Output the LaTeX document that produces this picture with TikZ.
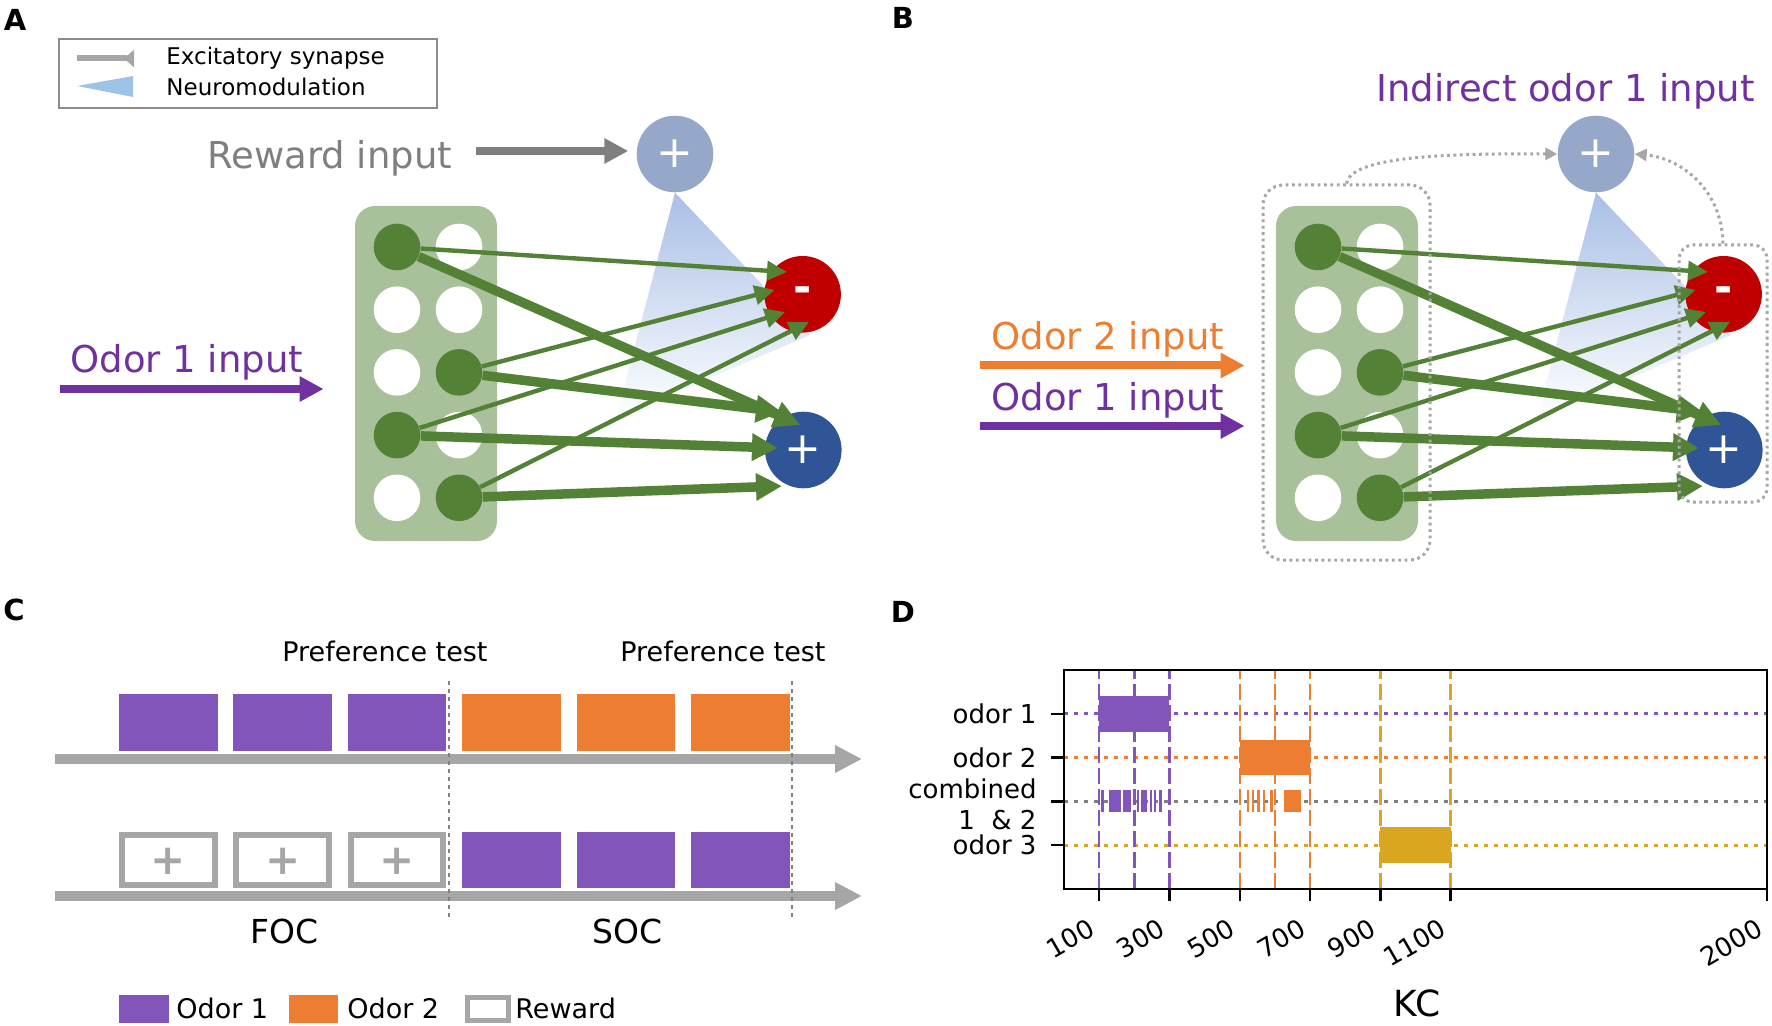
\documentclass[tikz,border=0pt]{standalone}
\usepackage{fontspec}
\setmainfont{DejaVu Sans}
\usetikzlibrary{arrows.meta,calc}

\definecolor{kcgreen}{HTML}{538135}
\definecolor{kcfill}{HTML}{A9C19B}
\definecolor{mbonred}{HTML}{C00000}
\definecolor{mbonblue}{HTML}{2F5597}
\definecolor{danfill}{HTML}{95A8CA}
\definecolor{modblue}{HTML}{A9BFE6}
\definecolor{legblue}{HTML}{9DC3E6}
\definecolor{odorpurple}{HTML}{7030A0}
\definecolor{boxpurple}{HTML}{8155BA}
\definecolor{odororange}{HTML}{ED7D31}
\definecolor{odorgold}{HTML}{DAA520}
\definecolor{rewgray}{HTML}{7F7F7F}
\definecolor{linegray}{HTML}{A6A6A6}
\definecolor{legframe}{HTML}{8C8C8C}

\tikzset{%
  >={Triangle[length=12pt,width=12pt]},
  % Specifications for style of nodes:
  paneltag/.style = {inner sep=0, font=\fontsize{14.5}{17}\selectfont\bfseries},
  inputtext/.style = {inner sep=0, anchor=base west, font=\fontsize{18.5}{22}\selectfont},
  legendtext/.style = {inner sep=0, anchor=west, font=\fontsize{11.5}{14}\selectfont},
  timetext/.style = {inner sep=0, anchor=base west, font=\fontsize{13.5}{16}\selectfont},
  plottext/.style = {inner sep=0, font=\fontsize{13}{15.5}\selectfont},
  kcbox/.style = {rectangle, rounded corners=10pt, fill=kcfill,
                  minimum width=71pt, minimum height=167.5pt, inner sep=0},
  kc/.style = {circle, minimum size=23.3pt, inner sep=0},
  neuron/.style = {circle, minimum size=38.3pt, inner sep=0, text=white,
                   font=\fontsize{22}{24}\selectfont},
  synthin/.style = {draw=kcgreen, line width=2.2pt, -{Triangle[length=10pt,width=9.5pt]}},
  synthick/.style = {draw=kcgreen, line width=4.75pt, -{Triangle[length=13pt,width=13pt]}},
  inarrow/.style = {->, line width=4pt},
  dotbox/.style = {draw=linegray, line width=1.5pt, dash pattern=on 1.4pt off 1.8pt,
                   inner sep=0},
  dotcurve/.style = {draw=linegray, line width=1.5pt, dash pattern=on 1.4pt off 1.8pt,
                     -{Triangle[length=6pt,width=6pt]}},
  timeline/.style = {draw=linegray, line width=5pt, -{Triangle[length=13.5pt,width=13pt]}},
  rowdots/.style = {line width=1.5pt, dash pattern=on 2.2pt off 2.8pt},
  coldash/.style = {line width=1.2pt, dash pattern=on 8pt off 2.5pt}
}

% KC layer, DAN and MBONs of one network; #1 prefixes the node names
\newcommand{\kcnet}[1]{%
  \node (#1g) [kcbox] at (426,373.5) {};
  \foreach \kr/\kc/\kf in {1/1/kcgreen,1/2/white,2/1/white,2/2/white,3/1/white,
                           3/2/kcgreen,4/1/kcgreen,4/2/white,5/1/white,5/2/kcgreen}
    \node (#1k\kr\kc) [kc, fill=\kf] at ({335+62*\kc},{247+62.7*(\kr-1)}) {};
  % DAN with its neuromodulation
  \node (#1r) [neuron, fill=danfill] at (675,154) {+};
  \shade[top color=modblue, bottom color=white] (#1r.south) -- (616,418) -- (810,335) -- cycle;
  % MBONs
  \node (#1m) [neuron, fill=mbonred] at (802.6,294.3) {\raisebox{-3pt}{\bfseries -}};
  \node (#1p) [neuron, fill=mbonblue] at (803.3,450) {+};
  \foreach \s/\mx/\my/\px/\py in {11/-15.6/-22.3/-3.3/-25, 32/-28/-4.3/-21.3/-38,
                                  41/-17.6/17.7/-25.3/-2, 52/6.4/27.7/-21.3/36}{
    \draw[synthin] (#1k\s) -- ($(#1m)+(\mx,\my)$);
    \draw[synthick] (#1k\s) -- ($(#1p)+(\px,\py)$);
  }
}

\begin{document}
\begin{tikzpicture}[x=0.5pt, y=-0.5pt]
\useasboundingbox (0,0) rectangle (1772,1026);

%% ---------------- A ----------------
\node (tagA) [paneltag] at (15,20) {A};
\node (leg) [draw=legframe, line width=1pt, minimum width=189pt, minimum height=34.5pt, inner sep=0] at (248,73.5) {};
\draw[linegray, line width=3pt, -{Triangle[reversed,length=5pt,width=8.5pt]}] (77,58.5) -- (134,58.5);
\fill[legblue] (77,86) -- (133,76) -- (133,97) -- cycle;
\node (legexc) [legendtext] at (166,58.5) {Excitatory synapse};
\node (legmod) [legendtext] at (166,87) {Neuromodulation};

\kcnet{a}

\node (rewtxt) [inputtext, text=rewgray] at (207,169) {Reward input};
\coordinate (rews) at (476,151);
\draw[inarrow, rewgray, shorten >=4pt] (rews) -- (rews -| ar.west);

\node (aodor1) [inputtext, text=odorpurple] at (70,373) {Odor 1 input};
\coordinate (aodor1s) at (60,389);
\draw[inarrow, odorpurple, shorten >=15.5pt] (aodor1s) -- (aodor1s -| ag.west);

%% ---------------- B ----------------
\node (tagB) [paneltag] at (903,18) {B};
\begin{scope}[shift={(921,0)}]
  \kcnet{b}
\end{scope}

\node (bindir) [inputtext, text=odorpurple] at (1376,102) {Indirect odor 1 input};
\node (bodor2) [inputtext, text=odororange] at (991,350) {Odor 2 input};
\node (bodor1) [inputtext, text=odorpurple] at (991,411) {Odor 1 input};
\coordinate (bodor2s) at (980,365.5);
\coordinate (bodor1s) at (980,426);
\draw[inarrow, odororange, shorten >=15.5pt] (bodor2s) -- (bodor2s -| bg.west);
\draw[inarrow, odorpurple, shorten >=15.5pt] (bodor1s) -- (bodor1s -| bg.west);

\node (bkcgroup) [dotbox, rounded corners=10pt, minimum width=83.5pt, minimum height=187.5pt] at (1346.5,372.5) {};
\node (bmbgroup) [dotbox, rounded corners=7pt, minimum width=44pt, minimum height=128.5pt] at (1723,373.5) {};
\draw[dotcurve] (bkcgroup.north) .. controls +(4,-25) and +(-127,-1) .. (br.west);
\draw[dotcurve] (bmbgroup.north) .. controls +(-1,-54) and +(46,4) .. (br.east);

%% ---------------- C ----------------
\node (tagC) [paneltag] at (14,610) {C};
\node (pref1) [timetext] at (282,661) {Preference test};
\node (pref2) [timetext] at (620,661) {Preference test};

\foreach \i/\cc in {0/boxpurple,1/boxpurple,2/boxpurple,3/odororange,4/odororange,5/odororange}
  \fill[\cc] ({119+114.4*\i},694) rectangle +(98.5,57);
\foreach \i in {0,1,2}{
  \draw[linegray, line width=3pt] ({122+114.4*\i},835) rectangle +(92.5,50);
  \node (plus\i) [text=linegray, font=\fontsize{21}{24}\selectfont\bfseries, inner sep=0] at ({168.25+114.4*\i},861) {+};
}
\foreach \i in {3,4,5}
  \fill[boxpurple] ({119+114.4*\i},832) rectangle +(98.5,56);

\coordinate (t1s) at (55,759);
\coordinate (t1e) at (862,759);
\coordinate (t2s) at (55,896);
\coordinate (t2e) at (862,896);
\draw[timeline] (t1s) -- (t1e);
\draw[timeline] (t2s) -- (t2e);
\foreach \xx in {449,792}
  \draw[gray, line width=1pt, dash pattern=on 2pt off 2pt] (\xx,681) -- (\xx,918);

\node (foc) [inner sep=0, anchor=base, font=\fontsize{16.5}{20}\selectfont] at (284.5,943) {FOC};
\node (soc) [inner sep=0, anchor=base, font=\fontsize{16.5}{20}\selectfont] at (627.5,943) {SOC};

% legend
\fill[boxpurple] (119,995) rectangle (169,1023);
\node (lodor1) [timetext] at (176,1018) {Odor 1};
\fill[odororange] (289,995) rectangle (338,1023);
\node (lodor2) [timetext] at (347,1018) {Odor 2};
\draw[linegray, line width=2.5pt] (467.5,997.5) rectangle (508.5,1020.5);
\node (lrew) [timetext] at (515,1018) {Reward};

%% ---------------- D ----------------
\node (tagD) [paneltag] at (903,612) {D};
\begin{scope}[shift={(1064,845)}, x=0.17575pt, y=21.85pt]
  % guide lines of the rows
  \foreach \rr/\cc in {3/boxpurple, 2/odororange, 1/rewgray, 0/odorgold}
    \draw[rowdots, \cc] (0,\rr) -- (2000,\rr);
  % responses
  \fill[boxpurple] (100,2.59) rectangle (300,3.41);
  \fill[odororange] (500,1.6) rectangle (700,2.4);
  \fill[odorgold] (900,-0.41) rectangle (1100,0.41);
  \foreach \a/\b in {105.5/112.5, 129/162, 169/190, 206.5/213.5, 219.5/226.5, 228.5/235.5,
                     243.5/250.5, 255.5/262.5, 271.5/278.5}
    \fill[boxpurple] (\a,0.75) rectangle (\b,1.25);
  \foreach \a/\b in {520.5/527.5, 534.5/541.5, 549.5/556.5, 565.5/572.5, 586.5/593.5, 626/674}
    \fill[odororange] (\a,0.75) rectangle (\b,1.25);
  % KC ranges
  \foreach \v/\cc in {100/boxpurple,200/boxpurple,300/boxpurple,500/odororange,600/odororange,
                      700/odororange,900/odorgold,1100/odorgold}
    \draw[coldash, \cc] (\v,-1) -- (\v,4);
  % axes
  \draw[line width=1.2pt] (0,-1) rectangle (2000,4);
  \foreach \rr in {0,...,3}
    \draw[line width=1.2pt] (0,\rr) -- (-37,\rr);
  \foreach \v in {100,300,500,700,900,1100,2000}{
    \draw[line width=1.2pt] (\v,-1) -- (\v,-1.275);
    \node (tick\v) [plottext, rotate=30, anchor=east] at (\v-20,-1.853) {\v};
  }
  \node (row3) [plottext, anchor=east] at (-77,3) {odor 1};
  \node (row2) [plottext, anchor=east] at (-77,2) {odor 2};
  \node (row1) [plottext, anchor=east, align=right] at (-77,0.93) {combined\\1\ \ \& 2};
  \node (row0) [plottext, anchor=east] at (-77,0) {odor 3};
  \node (kclabel) [inner sep=0, font=\fontsize{18}{21}\selectfont] at (1004,-3.62) {KC};
\end{scope}
\end{tikzpicture}
\end{document}
